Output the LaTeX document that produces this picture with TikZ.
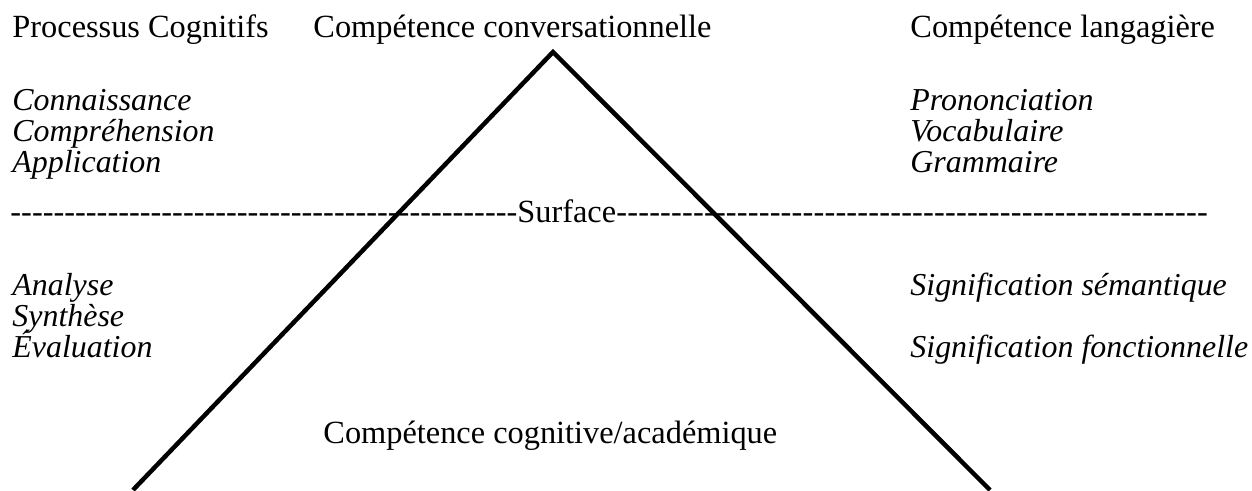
\documentclass[tikz,border=0pt]{standalone}
\usepackage{fontspec}
\setmainfont{Liberation Serif}
\usetikzlibrary{positioning}
\newcommand{\hyphenfill}[1]{\xleaders\hbox{-}\hskip#1\relax}

\begin{document}
\begin{tikzpicture}[x=0.445pt, y=-0.445pt,
  every node/.style={inner sep=0pt, font=\fontsize{14.4}{16.5}\selectfont},
  head/.style={anchor=base west},
  item/.style={anchor=base west, font=\fontsize{14.2}{16.5}\selectfont\itshape},
  edge line/.style={line width=2pt}]
  \useasboundingbox (0,0) rectangle (1252,490);

  % headings
  \node[head] (processus) at (12,37) {Processus Cognitifs};
  \node[head] (conversation) at (313,37) {Compétence conversationnelle};
  \node[head] (langagiere) at (910,37) {Compétence langagière};

  % above the surface
  \node[item] (connaissance) at (12,110) {Connaissance};
  \node[item] (comprehension) at (12,141) {Compréhension};
  \node[item] (application) at (12,172) {Application};
  \node[item] (prononciation) at (910,110) {Prononciation};
  \node[item] (vocabulaire) at (910,141) {Vocabulaire};
  \node[item] (grammaire) at (910,172) {Grammaire};

  % surface line
  \node[head] (surface) at (10,222) {\hyphenfill{225.6pt}Surface\hyphenfill{263.4pt}\kern0pt};

  % below the surface
  \node[item] (analyse) at (12,295) {Analyse};
  \node[item] (synthese) at (12,326) {Synthèse};
  \node[item] (evaluation) at (12,357) {Évaluation};
  \node[item] (semantique) at (910,295) {Signification sémantique};
  \node[item] (fonctionnelle) at (910,357) {Signification fonctionnelle};

  \node[head] (cognitive) at (323,443) {Compétence cognitive/académique};

  % iceberg
  \coordinate (apex) at (553,52);
  \coordinate (lbase) at (133,490);
  \coordinate (rbase) at (990,490);
  \draw[edge line] (lbase) -- (apex) -- (rbase);
\end{tikzpicture}
\end{document}
